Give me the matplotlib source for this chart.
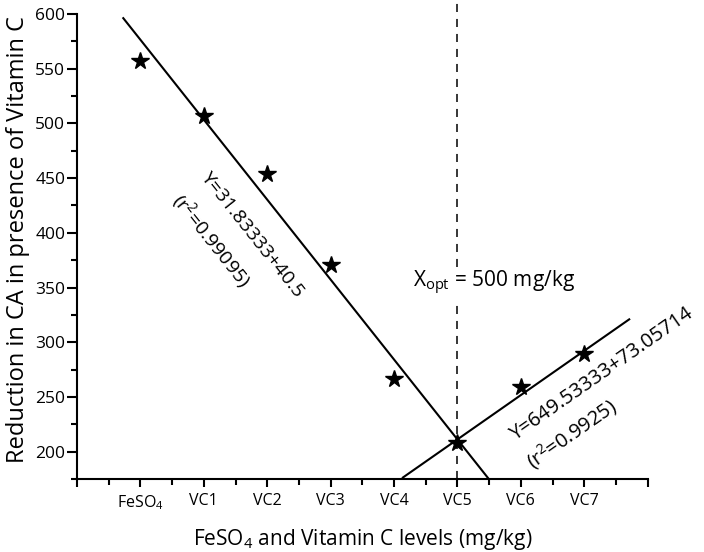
import numpy as np
import matplotlib.pyplot as plt
from matplotlib.ticker import MultipleLocator

plt.rcParams['font.family'] = ['Open Sans', 'DejaVu Sans']
plt.rcParams['mathtext.fontset'] = 'custom'
plt.rcParams['mathtext.rm'] = 'Open Sans'
plt.rcParams['mathtext.it'] = 'Open Sans:italic'
plt.rcParams['lines.scale_dashes'] = False

# data
levels = ['FeSO$_4$', 'VC1', 'VC2', 'VC3', 'VC4', 'VC5', 'VC6', 'VC7']
positions = [1, 2, 3, 4, 5, 6, 7, 8]
reduction = [557, 507, 454, 371, 266, 208, 259, 289]

# fitted lines (intercept, slope) and x range drawn
fit_down = (649.53333, -73.05714)
fit_down_x = [0.73, 6.48]
fit_up = (-31.83333, 40.5)
fit_up_x = [5.14, 8.71]
x_opt = 6

fig = plt.figure(figsize=(7.04, 5.52), dpi=100)
ax = fig.add_axes([77 / 704, 73 / 552, (647.6 - 77) / 704, 479 / 552])
ax.set_xlim(0, 9)
ax.set_ylim(175, 612.8)

for (b, m), xs in [(fit_down, fit_down_x), (fit_up, fit_up_x)]:
    xs = np.array(xs)
    ax.plot(xs, b + m * xs, color='black', lw=1.5, clip_on=False)

ax.plot(positions, reduction, ls='none', marker='*', ms=13, color='black')

# dashed optimum line, broken where the label sits
ax.plot([x_opt, x_opt], [175, 336], color='black', lw=1.1, dashes=(5.8, 5))
ax.plot([x_opt, x_opt], [369, 612.8], color='black', lw=1.1, dashes=(5.8, 5))
ax.text(5.30, 354, 'X$_{\\rm opt}$ = 500 mg/kg', fontsize=15, ha='left', va='center')


def angle(b, m):
    p = ax.transData.transform([(3, b + m * 3), (6, b + m * 6)])
    return np.degrees(np.arctan2(p[1, 1] - p[0, 1], p[1, 0] - p[0, 0]))


a1 = angle(*fit_down)
a2 = angle(*fit_up)
ax.text(2.76, 399, 'Y=31.83333+40.5', rotation=a1, rotation_mode='anchor',
        ha='center', va='center', fontsize=14)
ax.text(2.12, 393, '(r$^2$=0.99095)', rotation=a1, rotation_mode='anchor',
        ha='center', va='center', fontsize=14)
ax.text(8.27, 270.3, 'Y=649.53333+73.05714', rotation=a2, rotation_mode='anchor',
        ha='center', va='center', fontsize=14.5)
ax.text(7.81, 216.4, '(r$^2$=0.9925)', rotation=a2, rotation_mode='anchor',
        ha='center', va='center', fontsize=14.5)

ax.spines['top'].set_visible(False)
ax.spines['right'].set_visible(False)
ax.spines['left'].set_bounds(175, 600)
for s in ['left', 'bottom']:
    ax.spines[s].set_linewidth(1.5)

ax.set_xticks(range(0, 10))
ax.set_xticklabels([''] + levels + [''])
ax.xaxis.set_minor_locator(MultipleLocator(0.5))
ax.set_yticks(range(200, 601, 50))
ax.yaxis.set_minor_locator(MultipleLocator(25))
ax.tick_params(which='major', length=7, width=1.5, labelsize=12.5)
ax.tick_params(which='minor', length=4, width=1.5)
ax.tick_params(axis='x', which='major', length=6, pad=4, labelsize=11.5)
ax.tick_params(axis='y', pad=1.5)

ax.set_xlabel('FeSO$_4$ and Vitamin C levels (mg/kg)', fontsize=15, labelpad=11)
ax.set_ylabel('Reduction in CA in presence of Vitamin C', fontsize=17, labelpad=4)

fig.savefig('out.png', dpi=100)
